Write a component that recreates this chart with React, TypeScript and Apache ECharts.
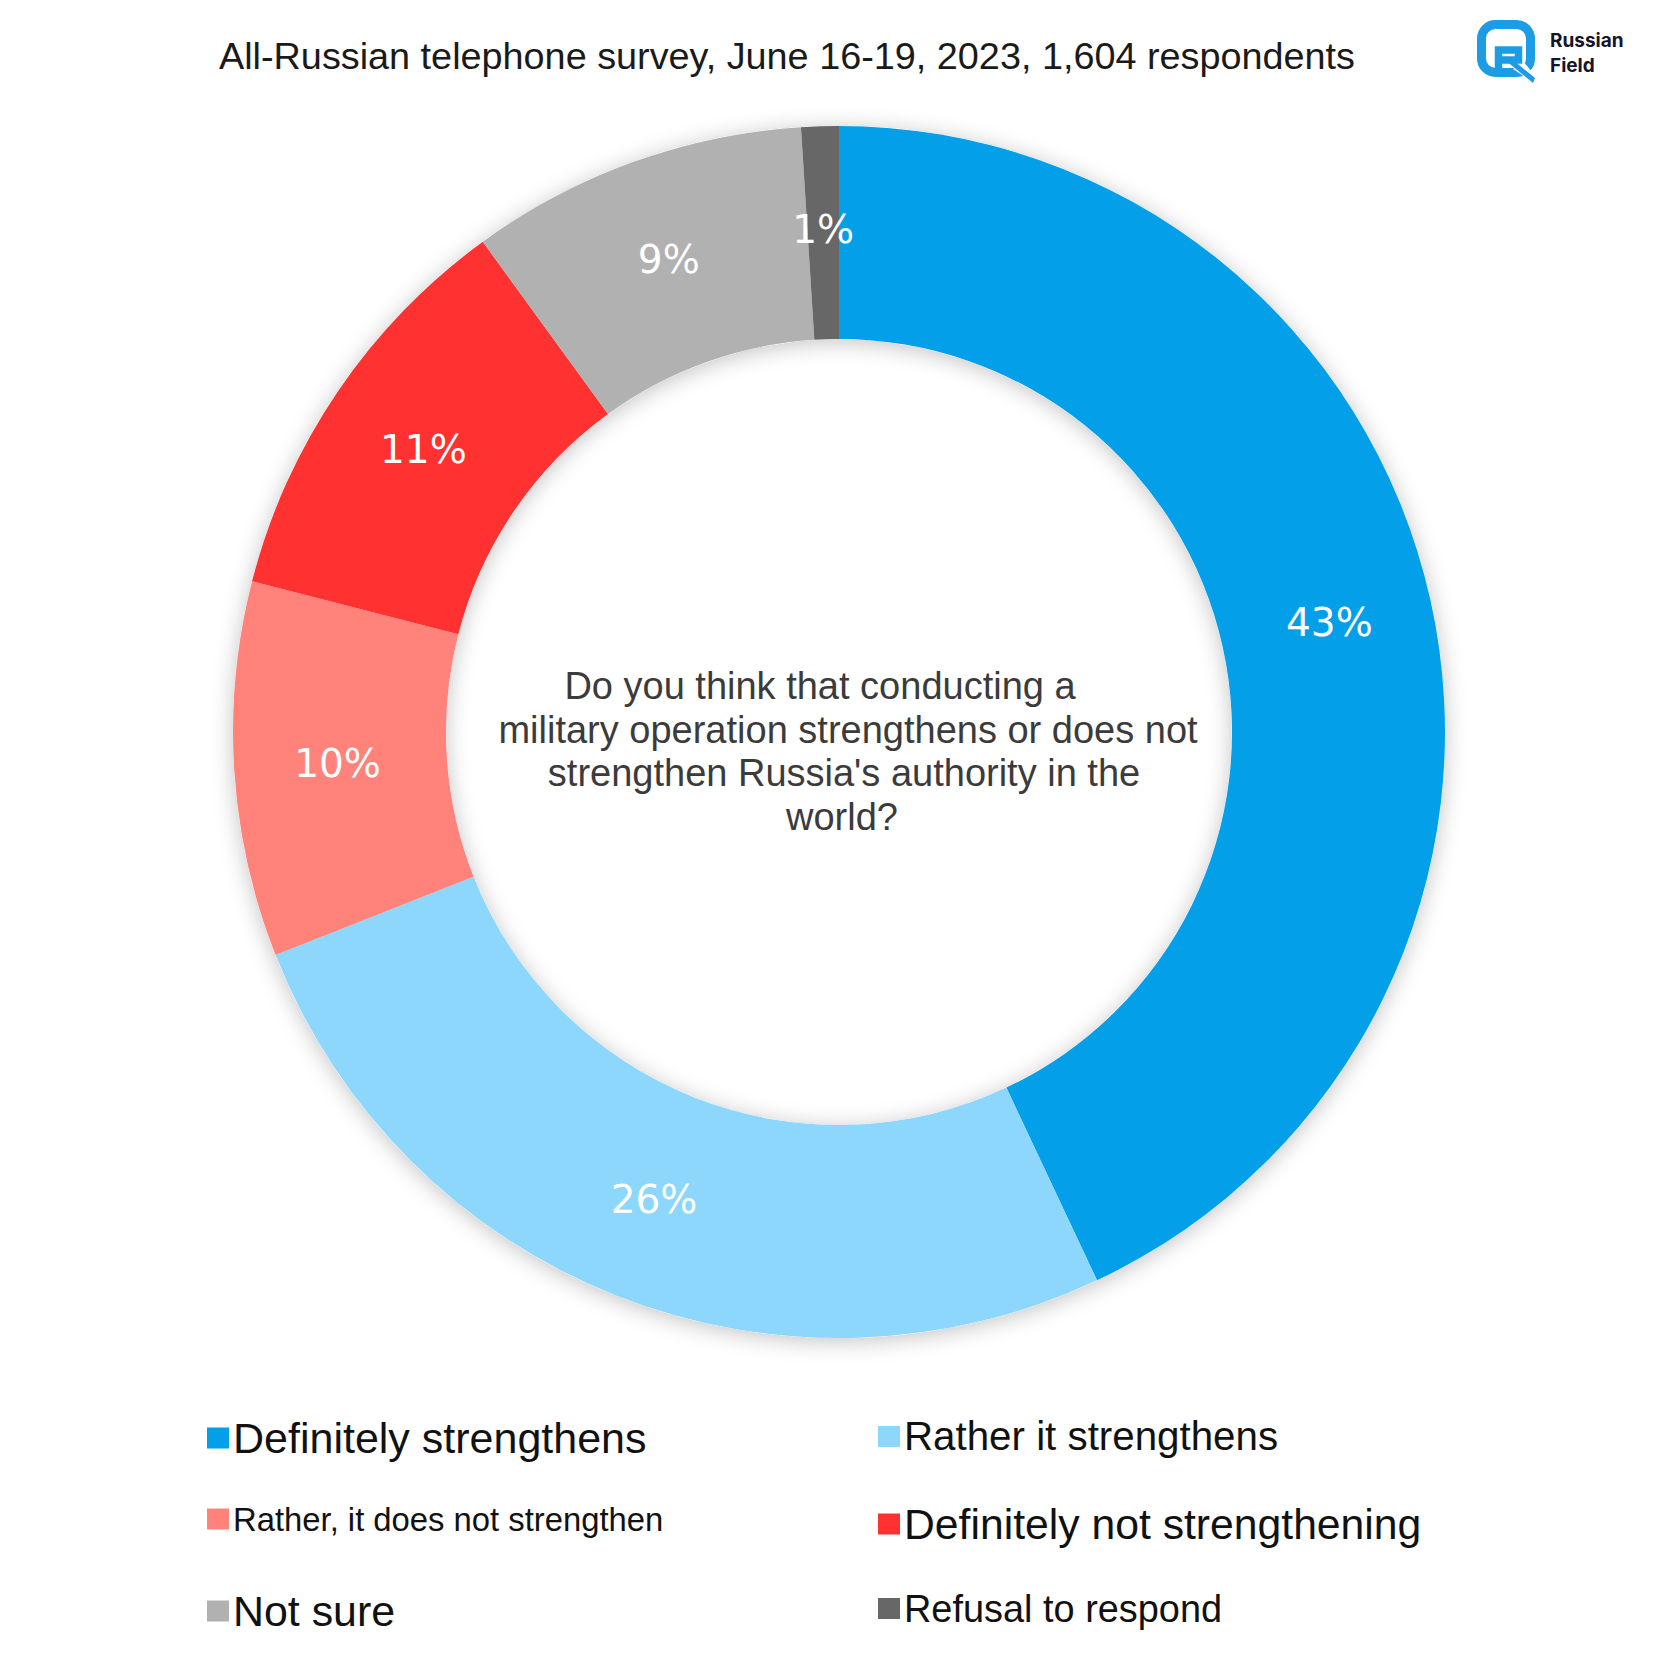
import React, { useEffect, useRef } from "react";
import * as echarts from "echarts";

// survey answers, clockwise from 12 o'clock
const ANSWERS = [
  "Definitely strengthens",
  "Rather it strengthens",
  "Rather, it does not strengthen",
  "Definitely not strengthening",
  "Not sure",
  "Refusal to respond",
];
const SHARES = [43, 26, 10, 11, 9, 1];
const COLORS = ["#03A0E9", "#8DD7FC", "#FF837B", "#FF3131", "#B1B1B1", "#676767"];

// legend: the source uses a different font size for each entry
const LEGEND_ORDER = [0, 1, 2, 3, 4, 5];
const LEGEND_FONT = [43, 40.3, 32.8, 42.7, 42.9, 37.9];

const TITLE = "All-Russian telephone survey, June 16-19, 2023, 1,604 respondents";
const QUESTION = [
  "Do you think that conducting a",
  "military operation strengthens or does not",
  "strengthen Russia's authority in the",
  "world?",
];
const QUESTION_X = [820, 848, 844, 842];

const CX = 839;
const CY = 732;
const R_OUT = 606;
const R_IN = 393;

const SANS = "'Liberation Sans', Arial, sans-serif";
const LOGO_BLUE = "#1C9CE5";

export default function App() {
  const chartRef = useRef<HTMLDivElement>(null);

  useEffect(() => {
    document.body.style.margin = "0";
    if (!chartRef.current) return;
    const chart = echarts.init(chartRef.current, undefined, { renderer: "svg" });

    const colLeft = [207, 878];
    const rowTop = [1422, 1508, 1595];

    const legends = LEGEND_ORDER.map((idx, i) => ({
      show: true,
      data: [ANSWERS[idx]],
      left: colLeft[i % 2],
      top: rowTop[Math.floor(i / 2)] - 5.5,
      padding: 0,
      icon: "rect",
      itemWidth: 22,
      itemHeight: 21,
      selectedMode: false,
      textStyle: {
        fontFamily: SANS,
        fontSize: LEGEND_FONT[i],
        color: "#111111",
        lineHeight: 22,
        padding: [10, 0, 0, -1],
      },
    }));

    const questionTexts = QUESTION.map((line, i) => ({
      type: "text",
      x: QUESTION_X[i],
      y: 686 + i * 43.7,
      z: 10,
      style: {
        text: line,
        fontFamily: SANS,
        fontSize: 38,
        fill: "#3b3b3b",
        align: "center",
        verticalAlign: "middle",
        textAlign: "center",
        textVerticalAlign: "middle",
      },
    }));

    const option: any = {
      animation: false,
      backgroundColor: "#ffffff",
      color: COLORS,
      legend: legends,
      graphic: [
        // soft shadow under the ring
        {
          type: "ring",
          z: 0,
          silent: true,
          shape: { cx: CX, cy: CY, r: R_OUT, r0: R_IN },
          style: {
            fill: "#ffffff",
            shadowBlur: 22,
            shadowColor: "rgba(0,0,0,0.24)",
            shadowOffsetY: 3,
          },
        },
        {
          type: "text",
          x: 787,
          y: 56,
          style: {
            text: TITLE,
            fontFamily: SANS,
            fontSize: 37.8,
            fill: "#1a1a1a",
            align: "center",
            verticalAlign: "middle",
            textAlign: "center",
            textVerticalAlign: "middle",
          },
        },
        ...questionTexts,
        // Russian Field logo
        {
          type: "group",
          x: 1477,
          y: 20,
          children: [
            {
              type: "rect",
              shape: { x: 4.5, y: 4.5, width: 49, height: 48, r: 14 },
              style: { fill: "none", stroke: LOGO_BLUE, lineWidth: 9 },
            },
            {
              type: "polygon",
              shape: { points: [[36, 49], [46, 41], [60, 58], [58, 64]] },
              style: { fill: "#ffffff" },
            },
            {
              type: "polyline",
              shape: { points: [[21.5, 53], [21.5, 30], [41.5, 30], [41.5, 40], [25, 40]] },
              style: { fill: "none", stroke: LOGO_BLUE, lineWidth: 7.5, lineJoin: "miter" },
            },
            {
              type: "polygon",
              shape: { points: [[28, 40], [36, 40], [58, 58], [56, 63]] },
              style: { fill: LOGO_BLUE },
            },
          ],
        },
        {
          type: "text",
          x: 1550,
          y: 40,
          style: {
            text: "Russian",
            fontFamily: "Inter, sans-serif",
            fontWeight: "bold",
            fontSize: 19,
            fill: "#15152a",
            verticalAlign: "middle",
            textVerticalAlign: "middle",
          },
        },
        {
          type: "text",
          x: 1550,
          y: 65,
          style: {
            text: "Field",
            fontFamily: "Inter, sans-serif",
            fontWeight: "bold",
            fontSize: 19,
            fill: "#15152a",
            verticalAlign: "middle",
            textVerticalAlign: "middle",
          },
        },
      ],
      series: [
        {
          type: "pie",
          z: 2,
          center: [CX, CY],
          radius: [R_IN, R_OUT],
          startAngle: 90,
          clockwise: true,
          avoidLabelOverlap: false,
          silent: true,
          itemStyle: { borderWidth: 0 },
          label: {
            show: true,
            position: "inside",
            formatter: "{c}%",
            color: "#ffffff",
            fontFamily: "'DejaVu Sans', Verdana, sans-serif",
            fontSize: 39,
            padding: [6, 0, 0, 0],
          },
          labelLine: { show: false },
          emphasis: { disabled: true },
          data: ANSWERS.map((name, i) => ({ name, value: SHARES[i] })),
        },
      ],
    };

    chart.setOption(option);
    return () => chart.dispose();
  }, []);

  return <div ref={chartRef} style={{ width: 1680, height: 1680 }} />;
}
